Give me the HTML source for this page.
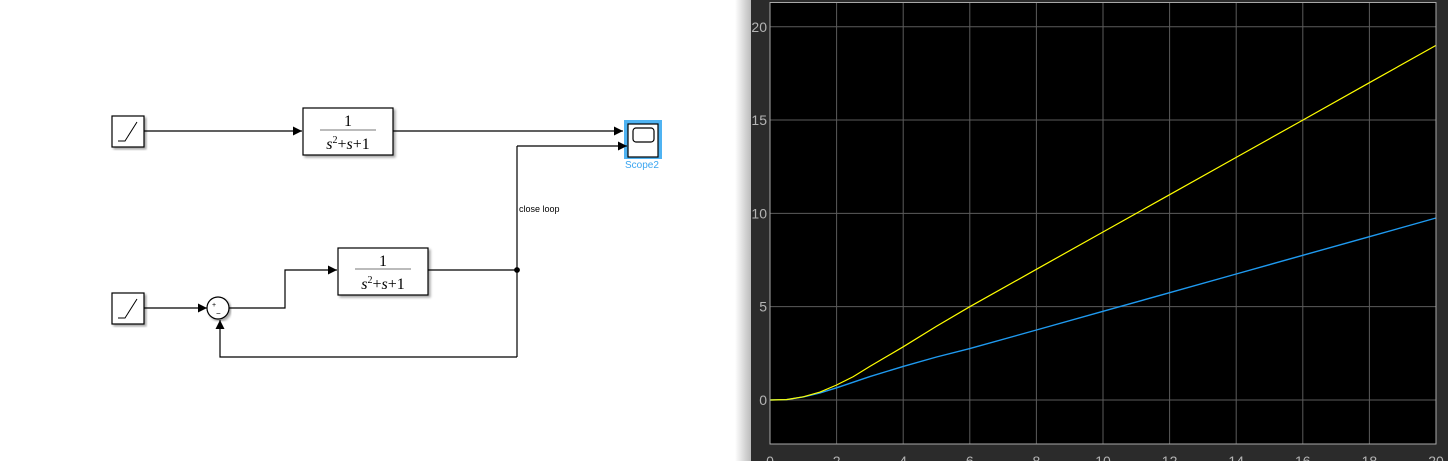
<!DOCTYPE html>
<html><head><meta charset="utf-8"><style>
html,body{margin:0;padding:0;background:#fff;width:1448px;height:461px;overflow:hidden;font-family:"Liberation Sans",sans-serif}
</style></head><body>
<svg width="1448" height="461" viewBox="0 0 1448 461" xmlns="http://www.w3.org/2000/svg">
<defs>
<marker id="ar" viewBox="0 0 10 10" refX="10" refY="5" markerWidth="9" markerHeight="9" markerUnits="userSpaceOnUse" orient="auto"><path d="M0,0L10,5L0,10z" fill="#000"/></marker>
<linearGradient id="sh" x1="0" x2="1"><stop offset="0" stop-color="#fff"/><stop offset="1" stop-color="#bbb"/></linearGradient>
<filter id="ds"><feDropShadow dx="2" dy="2" stdDeviation="1.2" flood-color="#000" flood-opacity="0.35"/></filter>
</defs>
<g fill="none" stroke="#000" stroke-width="1.2">
 <rect x="112" y="116" width="32" height="31" fill="#fff" filter="url(#ds)"/>
 <path d="M118,141h7l12,-19" stroke-width="1"/>
 <line x1="144" y1="131" x2="302" y2="131" marker-end="url(#ar)"/>
 <rect x="303" y="108" width="90" height="47" fill="#fff" filter="url(#ds)"/>
 <line x1="393" y1="131" x2="623" y2="131" marker-end="url(#ar)"/>
 <rect x="624" y="120" width="38" height="39" fill="#4fb3f2" stroke="none"/>
 <rect x="628" y="124" width="30" height="33" fill="#fff" stroke="#000"/>
 <rect x="633" y="128" width="21" height="14" rx="3" fill="#fff" stroke="#000"/>
 <line x1="517" y1="146" x2="627" y2="146" marker-end="url(#ar)"/>
 <line x1="517" y1="146" x2="517" y2="357"/>
 <circle cx="517" cy="270" r="2.3" fill="#000"/>
 <rect x="112" y="293" width="32" height="31" fill="#fff" filter="url(#ds)"/>
 <path d="M118,318h7l12,-19" stroke-width="1"/>
 <line x1="144" y1="308" x2="207" y2="308" marker-end="url(#ar)"/>
 <circle cx="218" cy="308" r="11" fill="#fff" filter="url(#ds)"/>
 <polyline points="229,308 285,308 285,270 337,270" marker-end="url(#ar)"/>
 <rect x="338" y="248" width="90" height="47" fill="#fff" filter="url(#ds)"/>
 <line x1="428" y1="270" x2="517" y2="270"/>
 <polyline points="517,357 220,357 220,320" marker-end="url(#ar)"/>
 <line x1="320" y1="130" x2="376" y2="130" stroke="#777" stroke-width="1"/>
 <line x1="355" y1="269" x2="411" y2="269" stroke="#777" stroke-width="1"/>
</g>
<g font-family="Liberation Serif,serif" font-size="16" fill="#000" text-anchor="middle">
 <text x="348" y="126">1</text>
 <text x="348" y="149" font-style="italic">s<tspan font-size="10" dy="-6" font-style="normal">2</tspan><tspan dy="6" font-style="normal">+</tspan>s<tspan font-style="normal">+1</tspan></text>
 <text x="383" y="266">1</text>
 <text x="383" y="289" font-style="italic">s<tspan font-size="10" dy="-6" font-style="normal">2</tspan><tspan dy="6" font-style="normal">+</tspan>s<tspan font-style="normal">+1</tspan></text>
</g>
<text x="212" y="307" font-size="7">+</text>
<text x="216" y="316" font-size="8">−</text>
<text x="625" y="168" font-size="10" fill="#3aa5f0">Scope2</text>
<text x="519" y="212" font-size="9" fill="#000">close loop</text>

<rect x="735" y="0" width="16" height="461" fill="url(#sh)"/>
<rect x="751" y="0" width="697" height="461" fill="#2b2b2b"/>
<rect x="770" y="2.5" width="666" height="441.5" fill="#000"/>
<g id="grid"></g>
<g id="series"></g>
<g id="ticks" font-size="14" fill="#b4b4b4"></g>
<rect x="770" y="2.5" width="666" height="441.5" fill="none" stroke="#a8a8a8" stroke-width="1"/>
</svg>
<script>
const xTicks=[0,2,4,6,8,10,12,14,16,18,20];
const yTicks=[0,5,10,15,20];
const tVals=[0,0.5,1,1.5,2,2.5,3,4,5,6,8,10,12,14,16,18,20];
const openLoop=[0,0.02,0.17,0.42,0.8,1.25,1.8,2.85,3.95,5.0,7.0,9.0,11.0,13.0,15.0,17.0,19.0];
const closedLoop=[0,0.02,0.16,0.38,0.65,0.95,1.25,1.8,2.3,2.75,3.75,4.75,5.75,6.75,7.75,8.75,9.75];
const X0=770,X1=1436,Y0=444,Y1=2.5,xmin=0,xmax=20,ymin=-2.36,ymax=21.3;
const sx=v=>X0+(v-xmin)/(xmax-xmin)*(X1-X0);
const sy=v=>Y0-(v-ymin)/(ymax-ymin)*(Y0-Y1);
const NS='http://www.w3.org/2000/svg';
const g=document.getElementById('grid'),tk=document.getElementById('ticks'),se=document.getElementById('series');
function mk(tag,at,p){const e=document.createElementNS(NS,tag);for(const k in at)e.setAttribute(k,at[k]);p.appendChild(e);return e;}
xTicks.forEach(v=>{
 const l=mk('line',{x1:sx(v),x2:sx(v),y1:Y1,y2:Y0,stroke:'#5c5c5c','stroke-width':1},g);
 
 
 const t=mk('text',{x:sx(v),y:466,'text-anchor':'middle'},tk);t.textContent=v;
 
 
});
yTicks.forEach(v=>{
 const l=mk('line',{x1:X0,x2:X1,y1:sy(v),y2:sy(v),stroke:'#5c5c5c','stroke-width':1},g);
 
 
 const t=mk('text',{x:767,y:sy(v)+5,'text-anchor':'end'},tk);t.textContent=v;
 
 
});
function path(vals){let d='';tVals.forEach((t,i)=>{d+=(i?'L':'M')+sx(t).toFixed(1)+','+sy(vals[i]).toFixed(1);});return d;}
const p1=mk('path',{d:path(closedLoop),fill:'none',stroke:'#1f9af0','stroke-width':1.4},se);


const p2=mk('path',{d:path(openLoop),fill:'none',stroke:'#ffff00','stroke-width':1.2},se);


</script>
</body></html>
